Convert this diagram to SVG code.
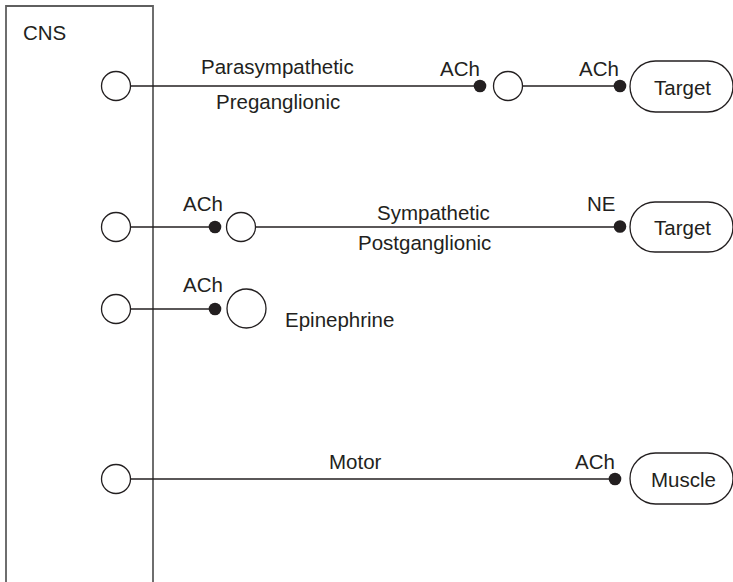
<svg xmlns="http://www.w3.org/2000/svg" width="733" height="582" viewBox="0 0 733 582">
<style>
  text { font-family: "Liberation Sans", Arial, sans-serif; font-size: 20.5px; fill: #231f20; }
  .cell { fill: #fff; stroke: #231f20; stroke-width: 1.3; }
  .axon { stroke: #231f20; stroke-width: 1.3; fill: none; }
  .dot { fill: #231f20; }
  .pill { fill: #fff; stroke: #231f20; stroke-width: 1.3; }
  .cns { fill: none; stroke: #5f5f5f; stroke-width: 1.8; }
</style>
<rect width="733" height="582" fill="#fff"/>
<g id="cns">
  <path class="cns" d="M6,582 V6 H153 V582"/>
  <text x="23" y="40">CNS</text>
</g>
<g id="connectors">
  <line class="axon" x1="131" y1="86" x2="476" y2="86"/>
  <circle class="dot" cx="480" cy="86" r="6.3"/>
  <line class="axon" x1="523" y1="86" x2="616" y2="86"/>
  <circle class="dot" cx="620" cy="86" r="6.3"/>
  <line class="axon" x1="131" y1="227" x2="211" y2="227"/>
  <circle class="dot" cx="215" cy="227" r="6.3"/>
  <line class="axon" x1="256" y1="227" x2="616" y2="227"/>
  <circle class="dot" cx="620" cy="226.5" r="6.3"/>
  <line class="axon" x1="131" y1="309" x2="211" y2="309"/>
  <circle class="dot" cx="215" cy="309" r="6.3"/>
  <line class="axon" x1="131" y1="479" x2="611" y2="479"/>
  <circle class="dot" cx="615" cy="479" r="6.3"/>
</g>
<g id="cns-neuron-1"><circle class="cell" cx="116" cy="86" r="14.5"/></g>
<g id="para-ganglion"><circle class="cell" cx="508" cy="86" r="14.5"/></g>
<g id="target-1">
  <rect class="pill" x="630" y="61" width="103" height="51" rx="25.5"/>
  <text x="654" y="95">Target</text>
</g>
<g id="labels-1">
  <text x="440" y="75.5">ACh</text>
  <text x="579" y="75.5">ACh</text>
  <text x="201" y="74">Parasympathetic</text>
  <text x="216" y="109">Preganglionic</text>
</g>
<g id="cns-neuron-2"><circle class="cell" cx="116" cy="227" r="14.5"/></g>
<g id="symp-ganglion"><circle class="cell" cx="241" cy="227" r="14.5"/></g>
<g id="target-2">
  <rect class="pill" x="630" y="202" width="103" height="50" rx="25"/>
  <text x="654" y="235">Target</text>
</g>
<g id="labels-2">
  <text x="183" y="211">ACh</text>
  <text x="587" y="211">NE</text>
  <text x="377" y="220">Sympathetic</text>
  <text x="358" y="250">Postganglionic</text>
</g>
<g id="cns-neuron-3"><circle class="cell" cx="116" cy="309" r="14.5"/></g>
<g id="adrenal">
  <circle class="cell" cx="246.5" cy="308.5" r="19.5"/>
  <text x="285" y="327">Epinephrine</text>
</g>
<g id="labels-3">
  <text x="183" y="292">ACh</text>
</g>
<g id="cns-neuron-4"><circle class="cell" cx="116" cy="479" r="14.5"/></g>
<g id="muscle">
  <rect class="pill" x="630" y="453" width="103" height="51" rx="25.5"/>
  <text x="651" y="487">Muscle</text>
</g>
<g id="labels-4">
  <text x="575" y="469">ACh</text>
  <text x="329" y="469">Motor</text>
</g>
</svg>
